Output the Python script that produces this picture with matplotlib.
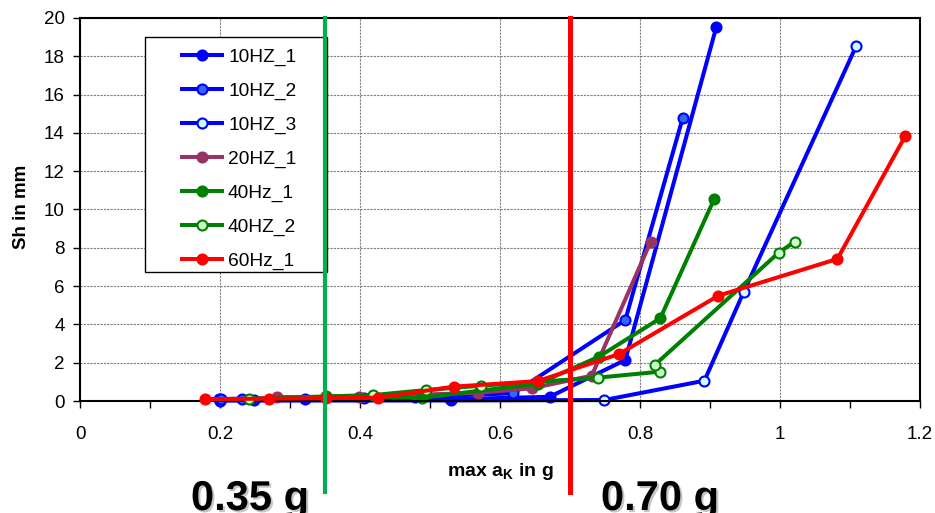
import numpy as np
import matplotlib.pyplot as plt
import matplotlib.patheffects as pe
from matplotlib.patches import Rectangle
from matplotlib.ticker import MultipleLocator

plt.rcParams['font.family'] = ['Liberation Sans', 'DejaVu Sans']
plt.rcParams['mathtext.fontset'] = 'custom'
plt.rcParams['mathtext.bf'] = 'Liberation Sans:bold'
plt.rcParams['mathtext.rm'] = 'Liberation Sans'

# measured runs: peak acceleration (g) vs. displacement Sh (mm)
x_10hz_1 = [0.198, 0.248, 0.321, 0.529, 0.671, 0.779, 0.909]
y_10hz_1 = [0.08, 0.05, 0.10, 0.09, 0.22, 2.14, 19.53]

x_10hz_2 = [0.202, 0.232, 0.406, 0.478, 0.619, 0.779, 0.861]
y_10hz_2 = [0.10, 0.12, 0.15, 0.22, 0.40, 4.23, 14.78]

x_10hz_3 = [0.200, 0.530, 0.749, 0.892, 0.948, 1.109]
y_10hz_3 = [0.02, 0.03, 0.05, 1.06, 5.68, 18.55]

x_20hz_1 = [0.282, 0.398, 0.568, 0.645, 0.731, 0.815]
y_20hz_1 = [0.20, 0.22, 0.43, 0.66, 1.32, 8.30]

x_40hz_1 = [0.352, 0.488, 0.654, 0.741, 0.829, 0.906]
y_40hz_1 = [0.25, 0.17, 0.90, 2.31, 4.32, 10.55]

x_40hz_2 = [0.241, 0.419, 0.494, 0.573, 0.740, 0.828, 0.821, 0.998, 1.021]
y_40hz_2 = [0.12, 0.31, 0.57, 0.80, 1.22, 1.53, 1.88, 7.74, 8.32]

x_60hz_1 = [0.178, 0.270, 0.352, 0.426, 0.534, 0.654, 0.770, 0.912, 1.082, 1.179]
y_60hz_1 = [0.10, 0.12, 0.15, 0.17, 0.75, 1.04, 2.45, 5.50, 7.42, 13.84]

limit_low = 0.35
limit_high = 0.70

x_ticks = [0, 0.2, 0.4, 0.6, 0.8, 1.0, 1.2]
x_ticklabels = ['0', '0.2', '0.4', '0.6', '0.8', '1', '1.2']
y_ticks = list(range(0, 21, 2))

series = [
    ('10HZ_1', x_10hz_1, y_10hz_1, '#0000FF', '#0000FF', '#0000FF', 2.2),
    ('10HZ_2', x_10hz_2, y_10hz_2, '#0000FF', '#3366FF', '#0000FF', 2.3),
    ('10HZ_3', x_10hz_3, y_10hz_3, '#0000FF', '#CCFFFF', '#0000FF', 2.1),
    ('20HZ_1', x_20hz_1, y_20hz_1, '#993366', '#993366', '#993366', 2.4),
    ('40Hz_1', x_40hz_1, y_40hz_1, '#008000', '#008000', '#008000', 2.5),
    ('40HZ_2', x_40hz_2, y_40hz_2, '#008000', '#CCFFCC', '#008000', 2.6),
    ('60Hz_1', x_60hz_1, y_60hz_1, '#FF0000', '#FF0000', '#FF0000', 2.7),
]

fig = plt.figure(figsize=(9.35, 5.13), dpi=100)
ax = fig.add_axes([80 / 935, 112 / 513, 840 / 935, 383 / 513])

for label, xs, ys, lc, fc, ec, z in series:
    ax.plot(xs, ys, '-o', color=lc, lw=2.9, ms=7.2, mfc=fc, mec=ec, mew=1.5,
            label=label, clip_on=False, zorder=z)

ax.set_xlim(0, 1.2)
ax.set_ylim(0, 20)
ax.set_xticks(x_ticks)
ax.set_xticklabels(x_ticklabels)
ax.xaxis.set_minor_locator(MultipleLocator(0.1))
ax.set_yticks(y_ticks)

ax.grid(True, which='major', color='#808080', linestyle=(0, (2, 1)), lw=0.8)
ax.tick_params(axis='both', which='both', direction='out', length=5, width=1,
               labelsize=13.5, colors='black')
ax.tick_params(axis='x', pad=13)
ax.tick_params(axis='y', pad=6)
for s in ax.spines.values():
    s.set_linewidth(1.5)
    s.set_color('black')

# threshold markers running down into the label area
ax.axvline(limit_low, ymin=-91 / 383, ymax=1, color='#00B050', lw=3, clip_on=False, zorder=5)
ax.axvline(limit_high, ymin=-91 / 383, ymax=1, color='#FF0000', lw=3.6, clip_on=False, zorder=5)

# legend box drawn separately so the entries can sit inset from its left edge
box = Rectangle((145 / 935, 1 - 272 / 513), 182 / 935, 235 / 513, transform=fig.transFigure,
                facecolor='white', edgecolor='black', lw=1, zorder=3)
ax.add_artist(box)
box.set_clip_on(False)
leg = ax.legend(loc='upper left', bbox_to_anchor=(182 / 935, 1 - 48 / 513),
                bbox_transform=fig.transFigure, borderaxespad=0, borderpad=0,
                fontsize=13.8, frameon=False, handlelength=2.1,
                labelspacing=0.86, handletextpad=0.3)
leg.set_zorder(4)

fig.text(500 / 935, 1 - 472 / 513, r'max a$_\mathbf{K}$ in g', ha='center', va='center',
         fontsize=14, fontweight='bold')
fig.text(22 / 935, 1 - 207 / 513, 'Sh in mm', ha='center', va='center', rotation=90,
         fontsize=13.5, fontweight='bold')

shadow = [pe.withSimplePatchShadow(offset=(1.5, -1.5), shadow_rgbFace='0.55', alpha=0.5)]
fig.text(250 / 935, 3 / 513, f'{limit_low:.2f} g', ha='center', va='baseline',
         fontsize=30, fontweight='bold', path_effects=shadow)
fig.text(660 / 935, 3 / 513, f'{limit_high:.2f} g', ha='center', va='baseline',
         fontsize=30, fontweight='bold', path_effects=shadow)

fig.savefig('out.png', dpi=100)
